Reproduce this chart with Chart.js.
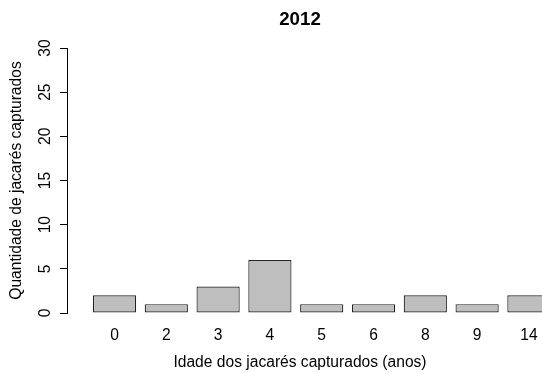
<!DOCTYPE html>
<html>
<head>
<meta charset="utf-8">
<script src="https://cdn.jsdelivr.net/npm/chart.js@4"></script>
<style>
  html, body { margin: 0; padding: 0; background: #fff; overflow: hidden; }
  #box { width: 542px; height: 372px; }
</style>
</head>
<body>
<div id="box"><canvas id="grafico"></canvas></div>
<script>
const idades = ["0", "2", "3", "4", "5", "6", "8", "9", "14"];
const quantidades = [2, 1, 3, 6, 1, 1, 2, 1, 2];
const ticksY = [0, 5, 10, 15, 20, 25, 30];

const fonte = "'Liberation Sans', Arial, sans-serif";

const ctx = document.getElementById("grafico").getContext("2d");

new Chart(ctx, {
  type: "bar",
  data: {
    datasets: [
      {
        data: quantidades.map((q, i) => ({ x: i, y: q })),
        backgroundColor: "#bebebe",
        borderColor: "#222",
        borderWidth: 1.2,
        borderSkipped: false,
        categoryPercentage: 1,
        barPercentage: 0.834,
        clip: false,
      },
    ],
  },
  options: {
    responsive: true,
    maintainAspectRatio: false,
    animation: false,
    layout: { padding: { left: 0, right: 9, top: 0, bottom: 0 } },
    plugins: {
      legend: { display: false },
      tooltip: { enabled: false },
      title: {
        display: true,
        text: "2012",
        color: "#000",
        fullSize: false,
        font: { family: fonte, size: 18.7, weight: "bold" },
        padding: { top: 8.8, bottom: 16.8 },
      },
    },
    scales: {
      x: {
        type: "linear",
        offset: false,
        min: -0.917,
        max: 8.079,
        grid: { display: false, drawTicks: false, offset: false },
        border: { display: false },
        afterBuildTicks: (s) => {
          s.ticks = idades.map((_, i) => ({ value: i }));
        },
        afterFit: (s) => {
          s.height = 59;
          s.paddingLeft = 0;
          s.paddingRight = 0;
        },
        ticks: {
          color: "#000",
          autoSkip: false,
          maxRotation: 0,
          padding: 13,
          font: { family: fonte, size: 15.6 },
          callback: (v) => idades[v],
        },
        title: {
          display: true,
          text: "Idade dos jacarés capturados (anos)",
          color: "#000",
          font: { family: fonte, size: 15.6 },
          padding: { top: 0, bottom: 0 },
        },
      },
      y: {
        min: 0,
        max: 30,
        afterBuildTicks: (s) => {
          s.ticks = ticksY.map((v) => ({ value: v }));
        },
        afterFit: (s) => {
          s.width = 67;
          s.paddingTop = 0;
          s.paddingBottom = 0;
        },
        grid: {
          drawOnChartArea: false,
          drawTicks: true,
          tickLength: 7,
          color: "#000",
          lineWidth: 1,
        },
        border: { display: true, color: "#000", width: 1 },
        ticks: {
          color: "#000",
          autoSkip: false,
          minRotation: 90,
          maxRotation: 90,
          crossAlign: "center",
          padding: 6,
          font: { family: fonte, size: 15.6 },
        },
        title: {
          display: true,
          text: "Quantidade de jacarés capturados",
          color: "#000",
          font: { family: fonte, size: 15.6 },
          padding: { top: 7.4, bottom: 0 },
        },
      },
    },
  },
});
</script>
</body>
</html>
